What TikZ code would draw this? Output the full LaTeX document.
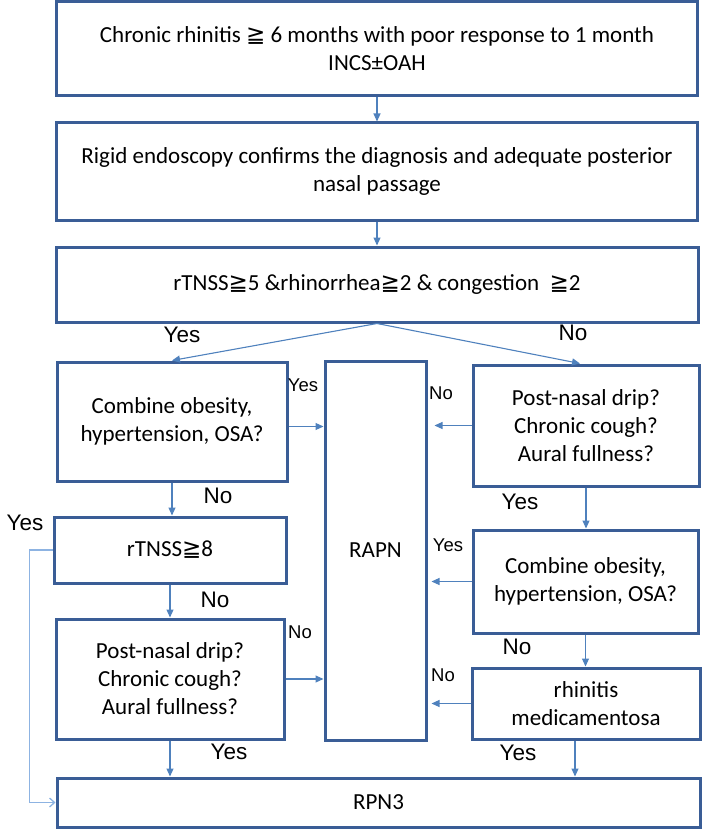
\documentclass[tikz,border=0pt]{standalone}
\usepackage{fontspec}
\setmainfont{Carlito}
\newfontfamily\arialf{Liberation Sans}
\newfontfamily\djv{DejaVu Sans}
\usetikzlibrary{arrows.meta,calc}
\definecolor{boxc}{HTML}{3A5D96}
\definecolor{arrc}{HTML}{4F81BD}
\definecolor{loopc}{HTML}{8DB3E2}
\newcommand{\mygeq}{{\djv ≧}}
\begin{document}
\begin{tikzpicture}[x=1pt,y=-1pt,
  box/.style={draw=boxc,line width=3pt,fill=white,inner sep=0pt,align=center,
    font=\fontsize{23}{28}\selectfont},
  arr/.style={draw=arrc,line width=1.1pt,-{Triangle[length=8pt,width=7pt]}},
  loopline/.style={draw=loopc,line width=1.3pt,-{Straight Barb[length=5pt,width=9pt]}},
  lab/.style={font=\arialf\fontsize{22.5}{25}\selectfont,inner sep=0pt},
  slab/.style={font=\arialf\fontsize{18.5}{21}\selectfont,inner sep=0pt}]
\useasboundingbox (0,0) rectangle (702,829);
% main boxes
\node[box,minimum width=641,minimum height=94] (b1) at (377,49)
  {Chronic rhinitis \mygeq\ 6 months with poor response to 1 month\\INCS±OAH};
\node[box,minimum width=641,minimum height=97] (b2) at (377,171.5)
  {Rigid endoscopy confirms the diagnosis and adequate posterior\\nasal passage};
\node[box,minimum width=642,minimum height=75] (b3) at (377,284.5)
  {rTNSS\mygeq5 \&rhinorrhea\mygeq2 \& congestion\ \ \mygeq2};
% left column
\node[box,minimum width=230,minimum height=119] (lc) at (172,421.5)
  {Combine obesity,\\hypertension, OSA?};
\node[box,minimum width=232,minimum height=66] (rt) at (170,550) {rTNSS\mygeq8};
\node[box,minimum width=228,minimum height=120] (lp) at (170,679)
  {Post-nasal drip?\\Chronic cough?\\Aural fullness?};
% middle
\node[box,minimum width=101,minimum height=379] (rapn) at (375.5,550.5) {RAPN};
% right column
\node[box,minimum width=226,minimum height=121] (rp) at (586,425.5)
  {Post-nasal drip?\\Chronic cough?\\Aural fullness?};
\node[box,minimum width=225,minimum height=103] (rc) at (585.5,581.5)
  {Combine obesity,\\hypertension, OSA?};
\node[box,minimum width=228,minimum height=71] (rm) at (586,703.5)
  {rhinitis\\medicamentosa};
% bottom
\node[box,minimum width=643,minimum height=49] (rpn) at (378.5,802.5) {RPN3};
% connectors
\draw[arr] (b1.south) -- (b2.north);
\draw[arr] (b2.south) -- (b3.north);
\draw[arr] (b3.south) -- (lc.north);
\draw[arr] (b3.south) -- ($(rp.north)+(-6,0)$);
\draw[arr] ($(lc.east)+(0,5)$) -- ($(rapn.west |- lc.east)+(0,5)$);
\draw[arr] (lc.south) -- (lc.south |- rt.north);
\draw[arr] (rt.south) -- (rt.south |- lp.north);
\draw[arr] (lp.east) -- (rapn.west |- lp.east);
\draw[arr] (lp.south) -- (lp.south |- rpn.north);
\draw[arr] (rp.west) -- ($(rapn.east |- rp.west)+(7,0)$);
\draw[arr] (rp.south) -- (rp.south |- rc.north);
\draw[arr] (rc.west) -- ($(rapn.east |- rc.west)+(4,0)$);
\draw[arr] (rc.south) -- (rc.south |- rm.north);
\draw[arr] (rm.west) -- ($(rapn.east |- rm.west)+(4,0)$);
\draw[arr] ($(rm.south)+(-11,0)$) -- ($(rm.south |- rpn.north)+(-11,0)$);
\draw[loopline] (rt.west) -- ++(-23,0) |- (rpn.west);
% labels
\node[lab] (y1) at (182,335) {Yes};
\node[lab] (n1) at (573,333) {No};
\node[slab] (y2) at (303,385) {Yes};
\node[slab] (n2) at (441,393) {No};
\node[lab] (n3) at (218,496) {No};
\node[lab] (y3) at (520,502) {Yes};
\node[lab] (y4) at (25,523) {Yes};
\node[slab] (y5) at (448,545) {Yes};
\node[lab] (n4) at (215,600) {No};
\node[slab] (n5) at (300,632) {No};
\node[lab] (n6) at (517,647) {No};
\node[slab] (n7) at (443,675) {No};
\node[lab] (y6) at (229,752) {Yes};
\node[lab] (y7) at (518,753) {Yes};
\end{tikzpicture}
\end{document}
